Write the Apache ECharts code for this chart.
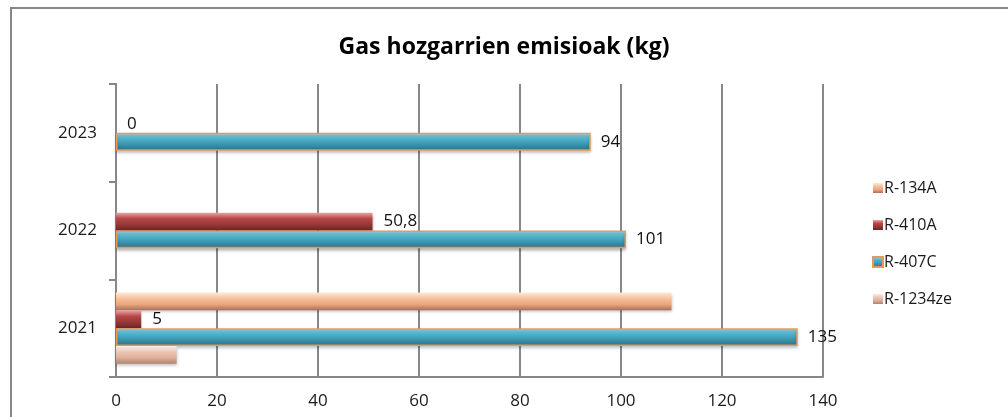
<!DOCTYPE html>
<html>
<head>
<meta charset="utf-8">
<script src="https://cdn.jsdelivr.net/npm/echarts@6/dist/echarts.min.js"></script>
<style>
html, body { margin: 0; padding: 0; background: #fff; }
#chart { width: 1008px; height: 417px; }
</style>
</head>
<body>
<div id="chart"></div>
<script>
// years, bottom to top
var years = ['2021', '2022', '2023'];
var seriesNames = ['R-134A', 'R-410A', 'R-407C', 'R-1234ze'];
var r134a = [110, null, null];
var r410a = [5, 50.8, 0];
var r407c = [135, 101, 94];
var r1234ze = [12, null, null];
var xTicks = { min: 0, max: 140, interval: 20 };

var FONT = 'Open Sans';
var GRID_GREY = '#878787';

function grad(stops) {
    return new echarts.graphic.LinearGradient(0, 0, 0, 1, stops.map(function (c, i) {
        return { offset: i / (stops.length - 1), color: c };
    }));
}

function fmt(p) {
    return String(p.value).replace('.', ',');
}

var barShadow = {
    shadowBlur: 3,
    shadowOffsetY: 2,
    shadowColor: 'rgba(0,0,0,0.25)'
};

var chart = echarts.init(document.getElementById('chart'));

var option = {
    animation: false,
    backgroundColor: '#fff',
    graphic: [{
        type: 'rect',
        shape: { x: 11, y: 8, width: 1020, height: 430 },
        style: { fill: 'none', stroke: GRID_GREY, lineWidth: 2 },
        silent: true
    }],
    title: {
        text: 'Gas hozgarrien emisioak (kg)',
        left: 'center',
        top: 31,
        textStyle: {
            fontFamily: FONT,
            fontWeight: 'bold',
            fontSize: 23,
            color: '#000'
        }
    },
    legend: {
        orient: 'vertical',
        left: 867,
        top: 175,
        itemWidth: 10,
        itemHeight: 10,
        itemGap: 21,
        icon: 'rect',
        data: seriesNames,
        textStyle: {
            fontFamily: FONT,
            fontSize: 16,
            color: '#1a1a1a',
            padding: [0, 0, 0, -4]
        }
    },
    grid: {
        left: 116,
        right: 185,
        top: 84,
        bottom: 40,
        containLabel: false
    },
    xAxis: {
        type: 'value',
        min: xTicks.min,
        max: xTicks.max,
        interval: xTicks.interval,
        axisLine: { show: true, lineStyle: { color: GRID_GREY, width: 2 } },
        axisTick: { show: false },
        splitLine: { show: true, lineStyle: { color: GRID_GREY, width: 2 } },
        axisLabel: {
            margin: 16,
            fontFamily: FONT,
            fontSize: 17,
            color: '#1a1a1a'
        }
    },
    yAxis: {
        type: 'category',
        data: years,
        axisLine: { show: true, lineStyle: { color: GRID_GREY, width: 2 } },
        axisTick: { show: true, length: 7, lineStyle: { color: GRID_GREY, width: 2 } },
        axisLabel: {
            margin: 19,
            fontFamily: FONT,
            fontSize: 17,
            color: '#1a1a1a'
        }
    },
    series: [
        {
            name: 'R-134A',
            type: 'bar',
            data: r134a,
            barGap: '0%',
            barCategoryGap: '27%',
            itemStyle: Object.assign({
                color: grad(['#fde9d8', '#f7c19c', '#eba57e', '#a6705a'])
            }, barShadow)
        },
        {
            name: 'R-410A',
            type: 'bar',
            data: r410a,
            itemStyle: Object.assign({
                color: grad(['#eba3a3', '#b54848', '#983737', '#6b2424'])
            }, barShadow),
            label: {
                show: true,
                position: 'right',
                distance: 11,
                formatter: fmt,
                fontFamily: FONT,
                fontSize: 17,
                color: '#111'
            }
        },
        {
            name: 'R-407C',
            type: 'bar',
            data: r407c,
            itemStyle: Object.assign({
                color: grad(['#a8e4f2', '#4fb3cc', '#3a93ab', '#2c7184']),
                borderColor: '#e59a5c',
                borderWidth: 1.5
            }, barShadow),
            label: {
                show: true,
                position: 'right',
                distance: 10,
                formatter: fmt,
                fontFamily: FONT,
                fontSize: 17,
                color: '#111'
            }
        },
        {
            name: 'R-1234ze',
            type: 'bar',
            data: r1234ze,
            itemStyle: Object.assign({
                color: grad(['#fbeae2', '#edc6b4', '#e0ae98', '#ad8473'])
            }, barShadow)
        }
    ]
};

chart.setOption(option);
</script>
</body>
</html>
